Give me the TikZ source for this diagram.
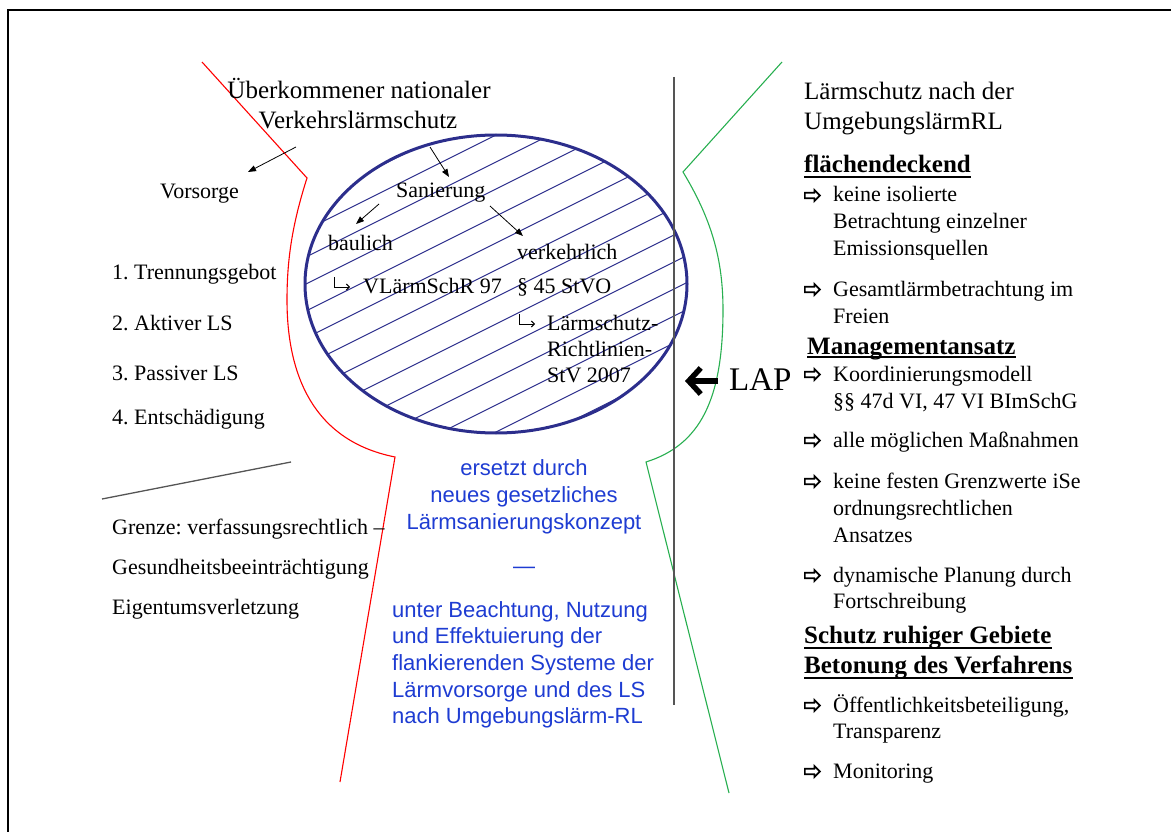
\documentclass[tikz,border=0pt]{standalone}
\usepackage{fontspec}
\setmainfont{Liberation Serif}
\newfontfamily\arialf{Liberation Sans}
\usetikzlibrary{arrows.meta,shapes.geometric,shapes.arrows}
\definecolor{navyc}{RGB}{44,46,140}
\definecolor{bluet}{RGB}{30,60,210}
\definecolor{greenc}{RGB}{40,175,80}
\definecolor{grayc}{RGB}{85,85,85}
\frenchspacing
\begin{document}
\begin{tikzpicture}[x=1pt,y=-1pt,
  t/.style={anchor=base west, inner sep=0pt, font=\fontsize{22}{26}\selectfont},
  big/.style={anchor=base west, inner sep=0pt, font=\fontsize{25}{30}\selectfont},
  bigc/.style={anchor=base, inner sep=0pt, font=\fontsize{25}{30}\selectfont},
  hd/.style={anchor=base west, inner sep=0pt, font=\fontsize{25}{30}\selectfont\bfseries},
  bt/.style={anchor=base west, inner sep=0pt, text=bluet, font=\arialf\fontsize{22}{26}\selectfont},
  btc/.style={anchor=base, inner sep=0pt, text=bluet, font=\arialf\fontsize{22}{26}\selectfont},
  sym/.style={single arrow, draw, line width=1.7pt, fill=white, minimum height=15pt, minimum width=11pt,
              inner sep=1.6pt, single arrow head extend=2.6pt, anchor=west},
  hookarr/.style={line width=1pt, -{Straight Barb[length=3pt,width=6pt]}},
  arr/.style={-{Triangle[length=8pt,width=6pt]}, line width=0.8pt},
  uline/.style={line width=2.6pt},
  hatch/.style={navyc, line width=1.1pt}
]
\useasboundingbox (0,0) rectangle (1171,832);
% frame
\draw[line width=2.2pt] (8,832) -- (8,10) -- (1171,10);

% hatched ellipse
\begin{scope}
  \clip (496,284) ellipse [x radius=191pt, y radius=149pt];
  \foreach \j in {-4,...,14}{
    \draw[hatch] (300,{162+27*\j+0.5*196}) -- (700,{162+27*\j-0.5*204});
  }
\end{scope}
\node[ellipse, draw=navyc, line width=3pt, minimum width=382pt, minimum height=298pt, inner sep=0pt] (ell) at (496,284) {};

% red and green outlines
\draw[red, line width=1.1pt] (202,62) -- (307,178) .. controls (292,225) and (287,260) .. (287,300) .. controls (287,370) and (310,440) .. (395,457) -- (340,782);
\draw[greenc, line width=1.1pt] (782,62) -- (683,172) .. controls (712,220) and (723,260) .. (723,310) .. controls (723,400) and (700,445) .. (646,462) -- (729,793);

% separator lines
\coordinate (v1) at (674,77);
\coordinate (v2) at (674,705);
\draw[grayc, line width=1.3pt] (v1) -- (v2);
\coordinate (g1) at (102,499);
\coordinate (g2) at (291,462);
\draw[grayc, line width=1.3pt] (g1) -- (g2);

% left title
\node[bigc] (tl1) at (359,99) {Überkommener nationaler};
\node[bigc] (tl2) at (358,129) {Verkehrslärmschutz};
\node[t] (vors) at (160,199) {Vorsorge};
\node[t] (l1) at (112,279) {1. Trennungsgebot};
\node[t] (l2) at (112,330) {2. Aktiver LS};
\node[t] (l3) at (112,380) {3. Passiver LS};
\node[t] (l4) at (112,424) {4. Entschädigung};
\node[t] (gr1) at (112,534) {Grenze: verfassungsrechtlich –};
\node[t] (gr2) at (112,574) {Gesundheitsbeeinträchtigung};
\node[t] (gr3) at (112,614) {Eigentumsverletzung};

% ellipse contents
\node[t] (san) at (396,197) {Sanierung};
\node[t] (bau) at (328,251) {baulich};
\coordinate (hk1a) at (334,277); \coordinate (hk1b) at (334,287); \coordinate (hk1c) at (350,287);
\draw[hookarr] (hk1a) -- (hk1b) -- (hk1c);
\node[t] (vl) at (363,293) {VLärmSchR 97};
\node[t] (vk) at (517,259) {verkehrlich};
\node[t] (stvo) at (517,293) {§ 45 StVO};
\coordinate (hk2a) at (519,314); \coordinate (hk2b) at (519,324); \coordinate (hk2c) at (535,324);
\draw[hookarr] (hk2a) -- (hk2b) -- (hk2c);
\node[t] (rl1) at (547,330) {Lärmschutz-};
\node[t] (rl2) at (547,356) {Richtlinien-};
\node[t] (rl3) at (547,382) {StV 2007};

% arrows
\coordinate (a1s) at (296,147); \coordinate (a1e) at (248,172);
\draw[arr] (a1s) -- (a1e);
\coordinate (a2s) at (430,147); \coordinate (a2e) at (449,177);
\draw[arr] (a2s) -- (a2e);
\coordinate (a3s) at (379,204); \coordinate (a3e) at (356,224);
\draw[arr] (a3s) -- (a3e);
\coordinate (a4s) at (490,206); \coordinate (a4e) at (523,236);
\draw[arr] (a4s) -- (a4e);

% blue text
\node[btc] (b1) at (524,475) {ersetzt durch};
\node[btc] (b2) at (524,502) {neues gesetzliches};
\node[btc] (b3) at (524,529) {Lärmsanierungskonzept};
\node[btc] (b4) at (524,573) {—};
\node[bt] (b5) at (392,617) {unter Beachtung, Nutzung};
\node[bt] (b6) at (392,643) {und Effektuierung der};
\node[bt] (b7) at (392,670) {flankierenden Systeme der};
\node[bt] (b8) at (392,697) {Lärmvorsorge und des LS};
\node[bt] (b9) at (392,723) {nach Umgebungslärm-RL};

% LAP
\node[anchor=base west, inner sep=0pt, font=\fontsize{33}{36}\selectfont] (lap) at (729,390) {LAP};
\coordinate (laps) at (718,381);
\coordinate (lape) at (685,381);
\draw[line width=5.5pt, -{Straight Barb[length=12pt,width=26pt]}] (laps) -- (lape);

% right column
\node[big] (tr1) at (804,100) {Lärmschutz nach der};
\node[big] (tr2) at (804,130) {UmgebungslärmRL};

\node[hd] (h1) at (804,173) {flächendeckend};
\draw[uline] ([yshift=-4pt]h1.base west) -- ([yshift=-4pt]h1.base east);
\node[sym] (s1) at (804,195.5) {};
\node[t] (r1a) at (833,202) {keine isolierte};
\node[t] (r1b) at (833,229) {Betrachtung einzelner};
\node[t] (r1c) at (833,255) {Emissionsquellen};
\node[sym] (s2) at (804,289.5) {};
\node[t] (r2a) at (833,296) {Gesamtlärmbetrachtung im};
\node[t] (r2b) at (833,323) {Freien};

\node[hd] (h2) at (807,354) {Managementansatz};
\draw[uline] ([yshift=-3pt]h2.base west) -- ([yshift=-3pt]h2.base east);
\node[sym] (s3) at (804,374.5) {};
\node[t] (r3a) at (833,381) {Koordinierungsmodell};
\node[t] (r3b) at (833,408) {§§ 47d VI, 47 VI BImSchG};
\node[sym] (s4) at (804,440.5) {};
\node[t] (r4a) at (833,447) {alle möglichen Maßnahmen};
\node[sym] (s5) at (804,481.5) {};
\node[t] (r5a) at (833,488) {keine festen Grenzwerte iSe};
\node[t] (r5b) at (833,515) {ordnungsrechtlichen};
\node[t] (r5c) at (833,542) {Ansatzes};
\node[sym] (s6) at (804,575.5) {};
\node[t] (r6a) at (833,582) {dynamische Planung durch};
\node[t] (r6b) at (833,608) {Fortschreibung};

\node[hd] (h3) at (804,643) {Schutz ruhiger Gebiete};
\draw[uline] ([yshift=-5pt]h3.base west) -- ([yshift=-5pt]h3.base east);
\node[hd] (h4) at (804,673) {Betonung des Verfahrens};
\draw[uline] ([yshift=-5pt]h4.base west) -- ([yshift=-5pt]h4.base east);
\node[sym] (s7) at (804,705.5) {};
\node[t] (r7a) at (833,712) {Öffentlichkeitsbeteiligung,};
\node[t] (r7b) at (833,738) {Transparenz};
\node[sym] (s8) at (804,771.5) {};
\node[t] (r8a) at (833,778) {Monitoring};
\end{tikzpicture}
\end{document}
